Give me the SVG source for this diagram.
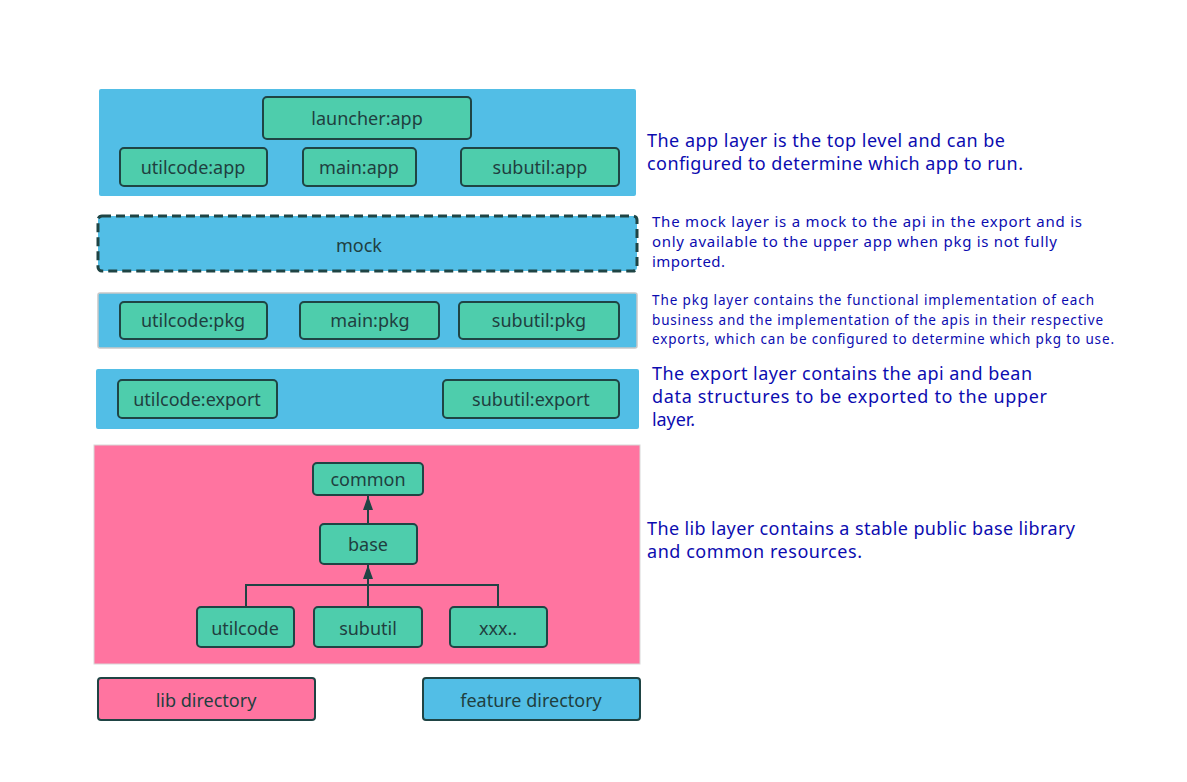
<svg xmlns="http://www.w3.org/2000/svg" width="1187" height="782" viewBox="0 0 1187 782">
<style>
.layer{fill:#52bee6;}
.node{fill:#4ecdac;stroke:#1f4444;stroke-width:2;}
.t{font-family:"Noto Sans","Open Sans",sans-serif;font-size:18px;fill:#1f3f3f;text-anchor:middle;}
.d{font-family:"Noto Sans","Open Sans",sans-serif;fill:#0c0cb0;}
.c{fill:none;stroke:#1f4444;stroke-width:2;}
</style>
<defs>
<marker id="ah" viewBox="0 0 14 10" refX="14" refY="5" markerWidth="7" markerHeight="5" orient="auto" markerUnits="strokeWidth">
<path d="M0,0 L14,5 L0,10 z" fill="#1f4444"/>
</marker>
</defs>
<rect width="1187" height="782" fill="#ffffff"/>
<g id="app-layer">
<rect class="layer" x="99" y="89" width="537" height="107" rx="2"/>
</g>
<g id="launcher-app"><rect class="node" x="263" y="97" width="208" height="42" rx="4"/><text class="t" x="367" y="125">launcher:app</text></g>
<g id="utilcode-app"><rect class="node" x="120" y="148" width="147" height="38" rx="4"/><text class="t" x="193" y="174">utilcode:app</text></g>
<g id="main-app"><rect class="node" x="303" y="148" width="113" height="38" rx="4"/><text class="t" x="359" y="174">main:app</text></g>
<g id="subutil-app"><rect class="node" x="461" y="148" width="158" height="38" rx="4"/><text class="t" x="540" y="174">subutil:app</text></g>
<g id="mock"><rect class="layer" x="98" y="216" width="539" height="55" rx="4" stroke="#1f4444" stroke-width="3" stroke-dasharray="9,5"/><text class="t" x="359" y="252">mock</text></g>
<g id="pkg-layer"><rect class="layer" x="98" y="293" width="539" height="55" rx="2" stroke="#c8c8c8" stroke-width="1.5"/></g>
<g id="utilcode-pkg"><rect class="node" x="120" y="302" width="147" height="37" rx="4"/><text class="t" x="193" y="327">utilcode:pkg</text></g>
<g id="main-pkg"><rect class="node" x="300" y="302" width="139" height="37" rx="4"/><text class="t" x="370" y="327">main:pkg</text></g>
<g id="subutil-pkg"><rect class="node" x="459" y="302" width="160" height="37" rx="4"/><text class="t" x="539" y="327">subutil:pkg</text></g>
<g id="export-layer"><rect class="layer" x="96" y="369" width="543" height="60" rx="2"/></g>
<g id="utilcode-export"><rect class="node" x="118" y="380" width="159" height="38" rx="4"/><text class="t" x="197" y="406">utilcode:export</text></g>
<g id="subutil-export"><rect class="node" x="443" y="380" width="176" height="38" rx="4"/><text class="t" x="531" y="406">subutil:export</text></g>
<g id="lib-layer"><rect x="94" y="445" width="546" height="219" fill="#ff74a0" stroke="#d8d8d8" stroke-width="1"/></g>
<g id="common"><rect class="node" x="313" y="463" width="110" height="32" rx="4"/><text class="t" x="368" y="486">common</text></g>
<g id="base"><rect class="node" x="320" y="524" width="97" height="40" rx="4"/><text class="t" x="368" y="551">base</text></g>
<g id="utilcode"><rect class="node" x="197" y="607" width="97" height="40" rx="4"/><text class="t" x="245" y="635">utilcode</text></g>
<g id="subutil"><rect class="node" x="314" y="607" width="108" height="40" rx="4"/><text class="t" x="368" y="635">subutil</text></g>
<g id="xxx"><rect class="node" x="450" y="607" width="97" height="40" rx="4"/><text class="t" x="498" y="635">xxx..</text></g>
<g id="connectors">
<path class="c" d="M368,524 L368,496" marker-end="url(#ah)"/>
<path class="c" d="M368,607 L368,565" marker-end="url(#ah)"/>
<path class="c" d="M246,607 L246,585 L498,585 L498,607"/>
</g>
<g id="lib-directory"><rect x="98" y="678" width="217" height="42" rx="3" fill="#ff74a0" stroke="#1f4444" stroke-width="2"/><text class="t" x="206" y="707">lib directory</text></g>
<g id="feature-directory"><rect x="423" y="678" width="217" height="42" rx="3" fill="#52bee6" stroke="#1f4444" stroke-width="2"/><text class="t" x="531" y="707">feature directory</text></g>
<g id="descriptions">
<text class="d" font-size="18" x="647" y="147" textLength="358" lengthAdjust="spacing">The app layer is the top level and can be</text>
<text class="d" font-size="18" x="647" y="170" textLength="376" lengthAdjust="spacing">configured to determine which app to run.</text>
<text class="d" font-size="15" x="652" y="227" textLength="430" lengthAdjust="spacing">The mock layer is a mock to the api in the export and is</text>
<text class="d" font-size="15" x="652" y="247" textLength="405" lengthAdjust="spacing">only available to the upper app when pkg is not fully</text>
<text class="d" font-size="15" x="652" y="267" textLength="73" lengthAdjust="spacing">imported.</text>
<text class="d" font-size="13.5" x="652" y="305" textLength="442" lengthAdjust="spacing">The pkg layer contains the functional implementation of each</text>
<text class="d" font-size="13.5" x="652" y="325" textLength="451" lengthAdjust="spacing">business and the implementation of the apis in their respective</text>
<text class="d" font-size="13.5" x="652" y="344" textLength="462" lengthAdjust="spacing">exports, which can be configured to determine which pkg to use.</text>
<text class="d" font-size="18" x="652" y="380" textLength="380" lengthAdjust="spacing">The export layer contains the api and bean</text>
<text class="d" font-size="18" x="652" y="403" textLength="395" lengthAdjust="spacing">data structures to be exported to the upper</text>
<text class="d" font-size="18" x="652" y="426" textLength="43" lengthAdjust="spacing">layer.</text>
<text class="d" font-size="18" x="647" y="535" textLength="428" lengthAdjust="spacing">The lib layer contains a stable public base library</text>
<text class="d" font-size="18" x="647" y="558" textLength="215" lengthAdjust="spacing">and common resources.</text>
</g>
</svg>
